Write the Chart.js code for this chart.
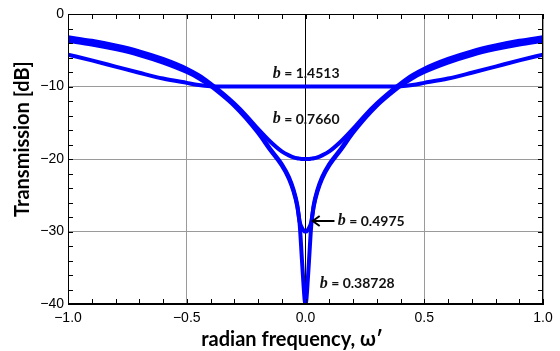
<!DOCTYPE html>
<html lang="en">
<head>
  <meta charset="UTF-8">
  <title>Transmission vs radian frequency</title>
  <style>
    body {
      margin: 0;
      background-color: #fff;
    }
    .chart-container {
      position: relative;
      width: 560px;
      height: 351px;
    }
  </style>
  <script src="https://cdn.jsdelivr.net/npm/chart.js"></script>
</head>
<body>
<div class="chart-container">
  <canvas id="transmissionChart"></canvas>
</div>

<script>
  // radian frequency (x values shared by all curves)
  const omega = [-1, -0.9, -0.8, -0.7, -0.6, -0.5, -0.45, -0.4, -0.35, -0.3, -0.25, -0.2, -0.15, -0.1,
    -0.07, -0.05, -0.035, -0.025, -0.015, -0.008, -0.003, 0, 0.003, 0.008, 0.015, 0.025, 0.035, 0.05,
    0.07, 0.1, 0.15, 0.2, 0.25, 0.3, 0.35, 0.4, 0.45, 0.5, 0.6, 0.7, 0.8, 0.9, 1];

  // transmission in dB
  const tB14513 = [-5.6, -6.4, -7.25, -8.1, -8.9, -9.5, -9.78, -9.95, -10, -10, -10, -10, -10, -10,
    -10, -10, -10, -10, -10, -10, -10, -10, -10, -10, -10, -10, -10, -10,
    -10, -10, -10, -10, -10, -10, -10, -9.95, -9.78, -9.5, -8.9, -8.1, -7.25, -6.4, -5.6];

  const tB07660 = [-3.2, -3.7, -4.35, -5.15, -6.2, -7.55, -8.45, -9.6, -10.9, -12.35, -14.0, -15.85, -17.55, -18.95,
    -19.5, -19.78, -19.9, -19.95, -20, -20, -20, -20, -20, -20, -20, -19.95, -19.9, -19.78,
    -19.5, -18.95, -17.55, -15.85, -14.0, -12.35, -10.9, -9.6, -8.45, -7.55, -6.2, -5.15, -4.35, -3.7, -3.2];

  const tB04975 = [-3.45, -3.95, -4.6, -5.4, -6.45, -7.8, -8.65, -9.75, -11.05, -12.5, -14.2, -16.2, -18.55, -20.7,
    -22.5, -24.3, -26.3, -28.6, -29.5, -29.85, -30, -30, -30, -29.85, -29.5, -28.6, -26.3, -24.3,
    -22.5, -20.7, -18.55, -16.2, -14.2, -12.5, -11.05, -9.75, -8.65, -7.8, -6.45, -5.4, -4.6, -3.95, -3.45];

  const tB038728 = [-3.7, -4.2, -4.85, -5.65, -6.7, -8.0, -8.85, -9.9, -11.2, -12.65, -14.4, -16.4, -18.7, -20.9,
    -22.7, -24.5, -26.5, -28.8, -33.9, -37.5, -39.6, -40, -39.6, -37.5, -33.9, -28.8, -26.5, -24.5,
    -22.7, -20.9, -18.7, -16.4, -14.4, -12.65, -11.2, -9.9, -8.85, -8.0, -6.7, -5.65, -4.85, -4.2, -3.7];

  const curveLabels = ['b = 1.4513', 'b = 0.7660', 'b = 0.4975', 'b = 0.38728'];
  const curveValues = [tB14513, tB07660, tB04975, tB038728];

  const xTicks = [-1, -0.5, 0, 0.5, 1];
  const yTicks = [0, -10, -20, -30, -40];

  function fmt(v, digits) {
    return v.toFixed(digits).replace('-', '\u2212');
  }

  // curve labels: text, anchor in data units, arrow (optional)
  const notes = [
    { value: '1.4513', x: -0.138, y: -8.2 },
    { value: '0.7660', x: -0.138, y: -14.5 },
    { value: '0.4975', x: 0.136, y: -28.55, arrowFrom: 0.122, arrowTo: 0.026 },
    { value: '0.38728', x: 0.060, y: -37.2 }
  ];

  // frame, inside ticks, axis titles and curve labels
  const decorPlugin = {
    id: 'decor',
    afterDatasetsDraw(chart) {
      const ctx = chart.ctx;
      const xs = chart.scales.x;
      const ys = chart.scales.y;
      const a = chart.chartArea;

      ctx.save();
      ctx.strokeStyle = '#000';
      ctx.lineWidth = 1;
      ctx.strokeRect(a.left + 0.5, a.top + 0.5, a.right - a.left - 1, a.bottom - a.top - 1);

      ctx.beginPath();
      for (let i = 0; i <= 20; i++) {
        const px = Math.round(xs.getPixelForValue(-1 + i * 0.1)) + 0.5;
        ctx.moveTo(px, a.bottom);
        ctx.lineTo(px, a.bottom - 5);
        ctx.moveTo(px, a.top);
        ctx.lineTo(px, a.top + 5);
      }
      for (let j = 0; j <= 20; j++) {
        const py = Math.round(ys.getPixelForValue(-40 + j * 2)) + 0.5;
        ctx.moveTo(a.left, py);
        ctx.lineTo(a.left + 5, py);
        ctx.moveTo(a.right, py);
        ctx.lineTo(a.right - 5, py);
      }
      ctx.stroke();

      // labels
      ctx.fillStyle = '#111';
      ctx.textBaseline = 'middle';
      notes.forEach(n => {
        const px = xs.getPixelForValue(n.x);
        const py = ys.getPixelForValue(n.y);
        ctx.textAlign = 'left';
        ctx.font = 'italic bold 16px "Liberation Serif"';
        ctx.fillText('b', px, py);
        const w = ctx.measureText('b').width;
        ctx.font = 'bold 14px Lato';
        ctx.fillText(' = ' + n.value, px + w, py);

        if (n.arrowFrom !== undefined) {
          const x0 = xs.getPixelForValue(n.arrowFrom);
          const x1 = xs.getPixelForValue(n.arrowTo);
          ctx.strokeStyle = '#000';
          ctx.lineWidth = 2;
          ctx.beginPath();
          ctx.moveTo(x0, py);
          ctx.lineTo(x1 + 2, py);
          ctx.moveTo(x1 + 8, py - 5);
          ctx.lineTo(x1 + 1, py);
          ctx.lineTo(x1 + 8, py + 5);
          ctx.stroke();
        }
      });

      // axis titles
      ctx.fillStyle = '#000';
      ctx.textAlign = 'center';
      ctx.font = 'bold 20px Lato';
      ctx.fillText('radian frequency, \u03c9\u2032', 292, 340);

      ctx.translate(23, 139);
      ctx.rotate(-Math.PI / 2);
      ctx.font = 'bold 20px Lato';
      ctx.fillText('Transmission [dB]', 0, 0);
      ctx.restore();
    }
  };

  const datasets = curveValues.map((vals, k) => ({
    label: curveLabels[k],
    data: omega.map((w, i) => ({ x: w, y: vals[i] })),
    showLine: true,
    borderColor: '#0000ff',
    backgroundColor: '#0000ff',
    borderWidth: 4,
    pointRadius: 0,
    cubicInterpolationMode: 'monotone',
    fill: false
  }));

  const config = {
    type: 'scatter',
    data: { datasets: datasets },
    options: {
      responsive: true,
      maintainAspectRatio: false,
      animation: false,
      layout: { padding: { top: 14, right: 17, left: 0, bottom: 0 } },
      plugins: {
        legend: { display: false },
        tooltip: { enabled: false }
      },
      scales: {
        x: {
          type: 'linear',
          min: -1,
          max: 1,
          afterBuildTicks: s => { s.ticks = xTicks.map(v => ({ value: v })); },
          afterFit: s => { s.height = 47; },
          ticks: {
            callback: v => fmt(v, 1),
            color: '#000',
            font: { family: '"Liberation Sans", Arial', size: 14 },
            padding: 6,
            maxRotation: 0
          },
          grid: {
            drawTicks: false,
            color: c => (c.tick && c.tick.value === 0 ? '#000' : '#9a9a9a')
          },
          border: { display: true, color: '#000' }
        },
        y: {
          min: -40,
          max: 0,
          afterBuildTicks: s => { s.ticks = yTicks.map(v => ({ value: v })); },
          afterFit: s => { s.width = 68; },
          ticks: {
            callback: v => fmt(v, 0),
            color: '#000',
            font: { family: '"Liberation Sans", Arial', size: 14 },
            padding: 4
          },
          grid: {
            drawTicks: false,
            color: '#9a9a9a'
          },
          border: { display: true, color: '#000' }
        }
      }
    },
    plugins: [decorPlugin]
  };

  new Chart(document.getElementById('transmissionChart').getContext('2d'), config);
</script>
</body>
</html>
